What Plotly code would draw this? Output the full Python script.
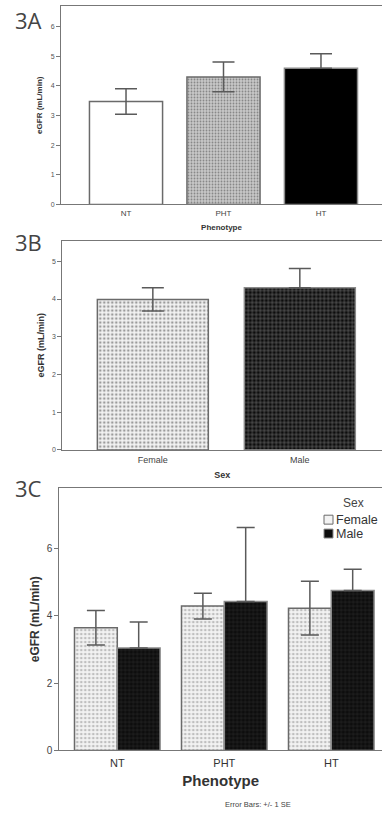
import plotly.graph_objects as go

# --- data ---------------------------------------------------------------
phenotypes = ["NT", "PHT", "HT"]
egfr_by_phenotype = [3.47, 4.30, 4.59]
se_by_phenotype = [0.43, 0.50, 0.49]

sexes = ["Female", "Male"]
egfr_by_sex = [3.99, 4.30]
se_by_sex = [0.31, 0.51]

egfr_female = [3.64, 4.28, 4.22]
se_female = [0.51, 0.38, 0.80]
egfr_male = [3.04, 4.42, 4.74]
se_male = [0.77, 2.19, 0.63]

# --- styling ------------------------------------------------------------
W, H = 382, 818
FONT = "Liberation Sans"
EDGE = "#6a6a6a"
DARK_EDGE = "#8a8a8a"
ERR = "#5a5a5a"
AXIS = "#777777"

FEMALE_FILL = "#f3f3f3"
MALE_FILL = "#0d0d0d"
FEMALE_PATTERN = dict(shape=".", fgcolor="#8a8a8a", bgcolor=FEMALE_FILL, size=4, solidity=0.35)
MALE_PATTERN = dict(shape="+", fgcolor="#4a4a4a", bgcolor=MALE_FILL, size=4, solidity=0.25)


def ydom(bottom_px, top_px):
    return [1 - bottom_px / H, 1 - top_px / H]


def upper_only(values):
    # whiskers below the top of a black bar disappear into the fill
    return [0 for _ in values]


fig = go.Figure()

# Panel A: eGFR by phenotype
fig.add_trace(go.Bar(
    x=phenotypes, y=egfr_by_phenotype, width=0.75,
    marker=dict(
        color=["white", "#c8c8c8", "black"],
        line=dict(color=[EDGE, EDGE, DARK_EDGE], width=1.5),
        pattern=dict(shape=["", ".", ""], fgcolor=["white", "#8c8c8c", "black"],
                     bgcolor=["white", "#d2d2d2", "black"], size=3, solidity=0.3),
    ),
    error_y=dict(type="data", symmetric=False, array=se_by_phenotype,
                 arrayminus=se_by_phenotype[:2] + upper_only(se_by_phenotype[2:]),
                 color=ERR, thickness=1.5, width=11),
    xaxis="x", yaxis="y", showlegend=False,
))

# Panel B: eGFR by sex
fig.add_trace(go.Bar(
    x=sexes, y=egfr_by_sex, width=0.755,
    marker=dict(
        color=[FEMALE_FILL, MALE_FILL],
        line=dict(color=[EDGE, DARK_EDGE], width=1.5),
        pattern=dict(shape=[".", "+"], fgcolor=["#8a8a8a", "#4a4a4a"],
                     bgcolor=[FEMALE_FILL, MALE_FILL], size=4, solidity=[0.35, 0.25]),
    ),
    error_y=dict(type="data", symmetric=False, array=se_by_sex,
                 arrayminus=se_by_sex[:1] + upper_only(se_by_sex[1:]),
                 color=ERR, thickness=1.5, width=11),
    xaxis="x2", yaxis="y2", showlegend=False,
))

# Panel C: eGFR by phenotype and sex
fig.add_trace(go.Bar(
    name="Female", x=phenotypes, y=egfr_female,
    marker=dict(color=FEMALE_FILL, line=dict(color=EDGE, width=1.5), pattern=FEMALE_PATTERN),
    error_y=dict(type="data", array=se_female, color=ERR, thickness=1.5, width=9),
    xaxis="x3", yaxis="y3", showlegend=False,
))
fig.add_trace(go.Bar(
    name="Male", x=phenotypes, y=egfr_male,
    marker=dict(color=MALE_FILL, line=dict(color=DARK_EDGE, width=1.5), pattern=MALE_PATTERN),
    error_y=dict(type="data", symmetric=False, array=se_male, arrayminus=upper_only(se_male),
                 color=ERR, thickness=1.5, width=9),
    xaxis="x3", yaxis="y3", showlegend=False,
))

common_x = dict(type="category", showline=True, mirror=True, linecolor=AXIS, linewidth=1,
                ticks="", showgrid=False, zeroline=False)
common_y = dict(showline=True, linecolor=AXIS, linewidth=1, ticks="outside", tickcolor=AXIS,
                ticklen=4, showgrid=False, zeroline=False, dtick=1)

fig.update_layout(
    width=W, height=H, autosize=False,
    margin=dict(l=0, r=0, t=0, b=0),
    paper_bgcolor="white", plot_bgcolor="white",
    font=dict(family=FONT, color="#333333"),
    barmode="group", bargap=0.2, bargroupgap=0,
    showlegend=False,
    xaxis=dict(common_x, domain=[61 / W, 1], range=[-0.667, 2.626], anchor="y",
               tickfont=dict(size=8, color="#444"), ticklabelstandoff=1,
               title=dict(text="<b>Phenotype</b>", font=dict(size=8), standoff=7)),
    yaxis=dict(common_y, domain=ydom(206, 6), range=[0, 6.69], anchor="x",
               tickfont=dict(size=7, color="#555"),
               title=dict(text="<b>eGFR (mL/min)</b>", font=dict(size=8), standoff=6)),
    xaxis2=dict(common_x, domain=[62.3 / W, 1], range=[-0.616, 1.559], anchor="y2",
                tickfont=dict(size=9, color="#444"), ticklabelstandoff=1,
                title=dict(text="<b>Sex</b>", font=dict(size=9), standoff=7)),
    yaxis2=dict(common_y, domain=ydom(453.3, 242.3), range=[0, 5.55], anchor="x2",
                tickfont=dict(size=7, color="#555"),
                title=dict(text="<b>eGFR (mL/min)</b>", font=dict(size=9), standoff=5)),
    xaxis3=dict(common_x, domain=[59.3 / W, 1], range=[-0.542, 2.474], anchor="y3",
                tickfont=dict(size=11, color="#333"), ticklabelstandoff=2,
                title=dict(text="<b>Phenotype</b>", font=dict(size=15), standoff=7)),
    yaxis3=dict(common_y, domain=ydom(756, 491.7), range=[0, 7.78], anchor="x3", dtick=2,
                tickfont=dict(size=10, color="#444"),
                title=dict(text="<b>eGFR (mL/min)</b>", font=dict(size=12), standoff=4)),
)

# Legend box for panel C
fig.add_annotation(text="Sex", xref="paper", yref="paper", x=353 / W, y=1 - 507 / H,
                   xanchor="center", yanchor="middle", showarrow=False,
                   font=dict(size=12, color="#444"))
legend_rows = [("Female", FEMALE_FILL, EDGE, 523.5), ("Male", MALE_FILL, DARK_EDGE, 537.5)]
for name, fill, edge, ypx in legend_rows:
    fig.add_shape(type="rect", xref="paper", yref="paper",
                  x0=324 / W, x1=333 / W, y0=1 - (ypx + 4.5) / H, y1=1 - (ypx - 4.5) / H,
                  fillcolor=fill, line=dict(color=edge, width=1))
    fig.add_annotation(text=name, xref="paper", yref="paper", x=334 / W, y=1 - ypx / H,
                       xanchor="left", yanchor="middle", showarrow=False,
                       font=dict(size=12.5, color="#333"))

labels = [("3A", 20), ("3B", 244), ("3C", 492)]
for text, ypx in labels:
    fig.add_annotation(text=text, xref="paper", yref="paper", x=13 / W, y=1 - ypx / H,
                       xanchor="left", yanchor="middle", showarrow=False,
                       font=dict(family="Open Sans", size=22, color="#444"))

fig.add_annotation(text="Error Bars: +/- 1 SE", xref="paper", yref="paper",
                   x=258 / W, y=1 - 810 / H, xanchor="center", yanchor="middle",
                   showarrow=False, font=dict(size=7.5, color="#444"))

fig.write_html("out.html")
